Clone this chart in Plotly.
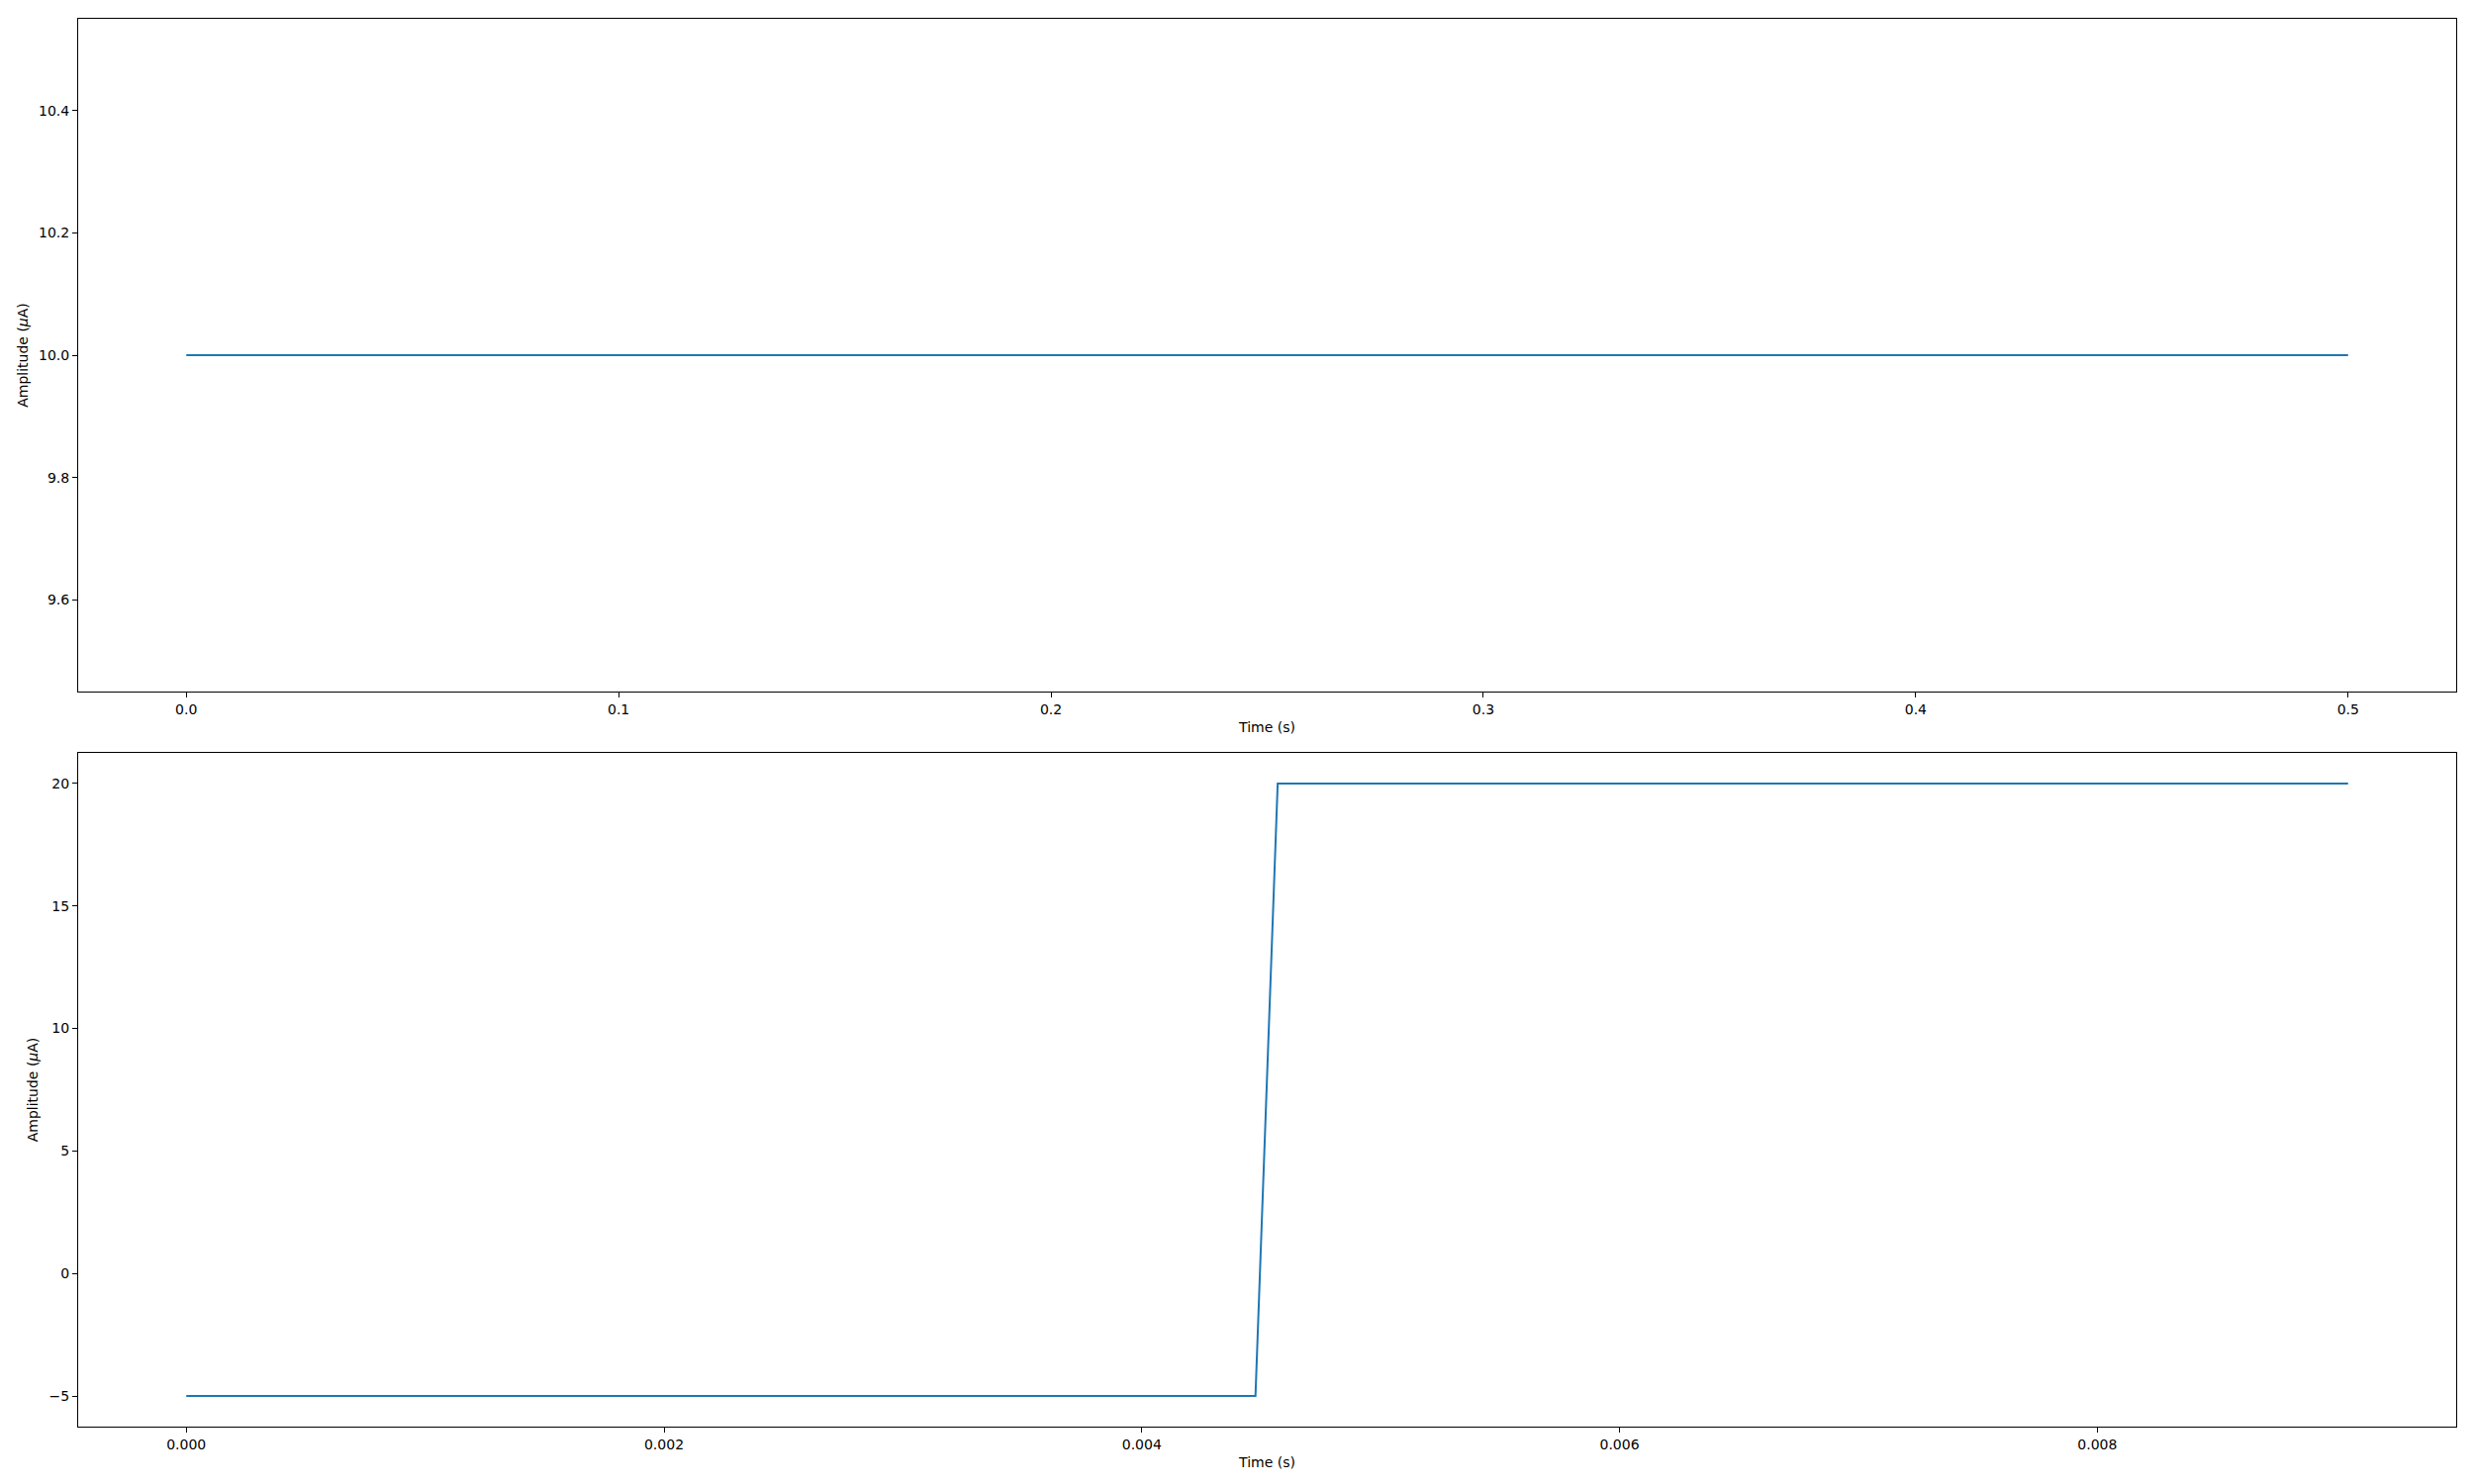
import plotly.graph_objects as go

# Top panel: constant amplitude
t_top = [0.0, 0.5]
amp_top = [10.0, 10.0]

# Bottom panel: step from -5 to 20
t_bot = [0.0, 0.004476, 0.004569, 0.00905]
amp_bot = [-5.0, -5.0, 20.0, 20.0]

top_xticks = [0.0, 0.1, 0.2, 0.3, 0.4, 0.5]
top_yticks = [9.6, 9.8, 10.0, 10.2, 10.4]
bot_xticks = [0.000, 0.002, 0.004, 0.006, 0.008]
bot_yticks = [-5, 0, 5, 10, 15, 20]

# page offset from default body margin
OFF = 8
W, H = 2500 - 2 * OFF, 1500 - 2 * OFF
LINE = "#1f77b4"
FONT = dict(family="DejaVu Sans", size=14, color="black")

def px_x(x):
    return (x - OFF) / W

def px_y(y):
    return 1 - (y - OFF) / H

fig = go.Figure()
fig.add_trace(go.Scatter(x=t_top, y=amp_top, mode="lines",
                         line=dict(color=LINE, width=2), xaxis="x", yaxis="y",
                         showlegend=False))
fig.add_trace(go.Scatter(x=t_bot, y=amp_bot, mode="lines",
                         line=dict(color=LINE, width=2), xaxis="x2", yaxis="y2",
                         showlegend=False))

xdom = [px_x(79), px_x(2482)]
dom_top = [px_y(699), px_y(19)]
dom_bot = [px_y(1442), px_y(761)]

def span(lo, hi):
    m = (hi - lo) * 0.05
    return [lo - m, hi + m]

axis_common = dict(showline=True, linecolor="black", linewidth=1.1, mirror=True,
                   ticks="outside", ticklen=5, tickwidth=1.1, tickcolor="black",
                   showgrid=False, zeroline=False, tickfont=FONT, automargin=False)

fig.update_layout(
    width=W, height=H,
    margin=dict(l=0, r=0, t=0, b=0),
    paper_bgcolor="white", plot_bgcolor="white",
    font=FONT,
    xaxis=dict(domain=xdom, anchor="y", range=span(0.0, 0.5),
               tickvals=top_xticks, ticktext=[f"{v:.1f}" for v in top_xticks],
               title=dict(text="Time (s)", font=FONT, standoff=6), **axis_common),
    yaxis=dict(domain=dom_top, anchor="x", range=[9.45, 10.55],
               tickvals=top_yticks, ticktext=[f"{v:.1f}" for v in top_yticks],
               title=dict(text="Amplitude (<i>μ</i>A)", font=FONT, standoff=7), **axis_common),
    xaxis2=dict(domain=xdom, anchor="y2", range=span(0.0, 0.00905),
                tickvals=bot_xticks, ticktext=[f"{v:.3f}" for v in bot_xticks],
                title=dict(text="Time (s)", font=FONT, standoff=6), **axis_common),
    yaxis2=dict(domain=dom_bot, anchor="x2", range=span(-5, 20),
                tickvals=bot_yticks,
                ticktext=[(f"\u2212{abs(v)}" if v < 0 else f"{v}") for v in bot_yticks],
                title=dict(text="Amplitude (<i>μ</i>A)", font=FONT, standoff=7), **axis_common),
)

fig.write_html("out.html")
